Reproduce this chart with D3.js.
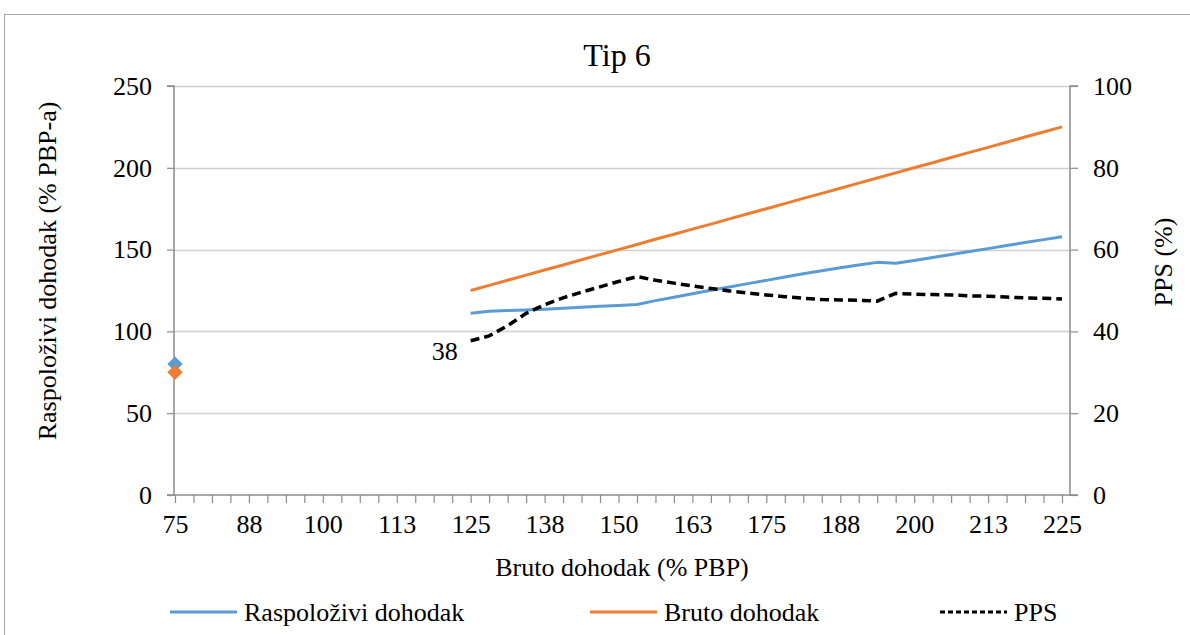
<!DOCTYPE html>
<html>
<head>
<meta charset="utf-8">
<script src="https://cdn.jsdelivr.net/npm/d3@7"></script>
<style>
  html, body { margin: 0; padding: 0; background: #fff; }
  svg { display: block; }
  svg text { font-family: "Liberation Serif", "Times New Roman", "DejaVu Serif", serif !important; fill: #000; }
</style>
</head>
<body>
<svg id="chart" width="1190" height="635"></svg>
<script>
// ---------- data ----------
const categories = [75, 78.125, 81.25, 84.375, 87.5, 90.625, 93.75, 96.875, 100, 103.125, 106.25, 109.375,
  112.5, 115.625, 118.75, 121.875, 125, 128.125, 131.25, 134.375, 137.5, 140.625, 143.75, 146.875,
  150, 153.125, 156.25, 159.375, 162.5, 165.625, 168.75, 171.875, 175, 178.125, 181.25, 184.375,
  187.5, 190.625, 193.75, 196.875, 200, 203.125, 206.25, 209.375, 212.5, 215.625, 218.75, 221.875, 225];

const raspolozivi = [80, null, null, null, null, null, null, null, null, null, null, null, null, null, null, null,
  111.1, 112.3, 112.8, 113.1, 113.5, 114.1, 114.7, 115.3, 115.9, 116.5, 118.8, 120.9, 123.0, 125.1, 127.2,
  129.2, 131.2, 133.2, 135.2, 137.1, 138.9, 140.6, 142.2, 141.6, 143.4, 145.2, 147.0, 148.8, 150.6, 152.5,
  154.3, 156.1, 157.9];

const bruto = [75, null, null, null, null, null, null, null, null, null, null, null, null, null, null, null,
  125, 128.1, 131.3, 134.4, 137.5, 140.6, 143.8, 146.9, 150, 153.1, 156.3, 159.4, 162.5, 165.6, 168.8,
  171.9, 175, 178.1, 181.3, 184.4, 187.5, 190.6, 193.8, 196.9, 200, 203.1, 206.3, 209.4, 212.5, 215.6,
  218.8, 221.9, 225];

const pps = [null, null, null, null, null, null, null, null, null, null, null, null, null, null, null, null,
  37.7, 38.9, 41.4, 44.4, 46.5, 48.2, 49.6, 50.9, 52.2, 53.4, 52.5, 51.8, 51.1, 50.5, 49.9,
  49.4, 48.9, 48.5, 48.1, 47.8, 47.7, 47.6, 47.4, 49.3, 49.1, 49.0, 48.9, 48.7, 48.6, 48.4,
  48.2, 48.1, 47.9];

const leftTicks = [0, 50, 100, 150, 200, 250];
const rightTicks = [0, 20, 40, 60, 80, 100];
const ppsLabel = "38";

const titleText = "Tip 6";
const xTitle = "Bruto dohodak (% PBP)";
const yLeftTitle = "Raspoloživi dohodak (% PBP-a)";
const yRightTitle = "PPS (%)";
const seriesNames = ["Raspoloživi dohodak", "Bruto dohodak", "PPS"];

// ---------- layout ----------
const FONT = '"Liberation Serif", "Times New Roman", "DejaVu Serif", serif';
const FS = 26;
const svg = d3.select("#chart");
const plotLeft = 175, plotRight = 1062, axisRightX = 1070, plotTop = 86, plotBottom = 495;
const blue = "#5B9BD5", orange = "#ED7D31";
const gridColor = "#d0d0d0", axisColor = "#8c8c8c";

// chart border
svg.append("rect").attr("x", 4.5).attr("y", 14.5).attr("width", 1200).attr("height", 700)
  .attr("fill", "none").attr("stroke", "#a6a6a6").attr("stroke-width", 1);

const x = d3.scalePoint().domain(d3.range(categories.length)).range([plotLeft, plotRight]).padding(0);
const yL = d3.scaleLinear().domain([0, 250]).range([plotBottom, plotTop]);
const yR = d3.scaleLinear().domain([0, 100]).range([plotBottom, plotTop]);

// gridlines
svg.append("g").selectAll("line").data(leftTicks.filter(d => d > 0)).join("line")
  .attr("x1", plotLeft - 1).attr("x2", axisRightX)
  .attr("y1", d => Math.round(yL(d)) + 0.5).attr("y2", d => Math.round(yL(d)) + 0.5)
  .attr("stroke", gridColor).attr("stroke-width", 1.5);

// left axis
const gLeft = svg.append("g").attr("transform", `translate(${plotLeft - 1},0)`)
  .call(d3.axisLeft(yL).tickValues(leftTicks).tickSize(7).tickPadding(15).tickFormat(d3.format("d")));
// right axis
const gRight = svg.append("g").attr("transform", `translate(${axisRightX},0)`)
  .call(d3.axisRight(yR).tickValues(rightTicks).tickSize(8).tickPadding(15).tickFormat(d3.format("d")));
// bottom axis
const gBottom = svg.append("g").attr("transform", `translate(0,${plotBottom})`)
  .call(d3.axisBottom(x).tickSize(8).tickPadding(12)
    .tickFormat(i => (i % 4 === 0 ? String(Math.round(categories[i])) : "")));

[gLeft, gRight, gBottom].forEach(g => {
  g.attr("font-family", FONT).attr("font-size", FS);
  g.select(".domain").attr("stroke", axisColor).attr("stroke-width", 1.5);
  g.selectAll(".tick line").attr("stroke", axisColor).attr("stroke-width", 1.2);
  g.selectAll(".tick text").attr("font-size", FS).attr("fill", "#000").attr("font-family", FONT);
});
gLeft.select(".domain").attr("d", `M-7,${plotBottom}H0V${plotTop}H-7`);
gRight.select(".domain").attr("d", `M8,${plotBottom}H0V${plotTop}H8`);
gBottom.select(".domain").attr("d", `M${plotLeft - 1},0H${axisRightX}`);

// lines
const lineL = d3.line().defined(d => d.v != null).x(d => x(d.i)).y(d => yL(d.v));
const lineR = d3.line().defined(d => d.v != null).x(d => x(d.i)).y(d => yR(d.v));
const toPts = arr => arr.map((v, i) => ({ i, v }));

svg.append("path").datum(toPts(bruto)).attr("d", lineL)
  .attr("fill", "none").attr("stroke", orange).attr("stroke-width", 3).attr("stroke-linejoin", "round");
svg.append("path").datum(toPts(raspolozivi)).attr("d", lineL)
  .attr("fill", "none").attr("stroke", blue).attr("stroke-width", 3).attr("stroke-linejoin", "round");
svg.append("path").datum(toPts(pps)).attr("d", lineR)
  .attr("fill", "none").attr("stroke", "#000").attr("stroke-width", 3.5)
  .attr("stroke-dasharray", "9,5");

// isolated points -> diamond markers
function isolated(arr) {
  return toPts(arr).filter(d => d.v != null &&
    (d.i === 0 || arr[d.i - 1] == null) && (d.i === arr.length - 1 || arr[d.i + 1] == null));
}
const diamond = d3.symbol().type(d3.symbolDiamond2).size(150);
[[raspolozivi, blue], [bruto, orange]].forEach(([arr, col]) => {
  svg.append("g").selectAll("path").data(isolated(arr)).join("path")
    .attr("transform", d => `translate(${x(d.i)},${yL(d.v)})`)
    .attr("d", diamond).attr("fill", col);
});

function txt(sel) { return sel.attr("font-family", FONT).attr("font-size", FS).attr("fill", "#000"); }

// data label on first PPS point
const firstPps = pps.findIndex(v => v != null);
txt(svg.append("text")).attr("x", x(firstPps) - 13).attr("y", yR(pps[firstPps]) + 19)
  .attr("text-anchor", "end").text(ppsLabel);

// titles
txt(svg.append("text")).attr("x", 617).attr("y", 66).attr("text-anchor", "middle")
  .attr("font-size", 32).text(titleText);
txt(svg.append("text")).attr("x", 622).attr("y", 576).attr("text-anchor", "middle").text(xTitle);
txt(svg.append("text")).attr("transform", "translate(56,271) rotate(-90)").attr("text-anchor", "middle")
  .text(yLeftTitle);
txt(svg.append("text")).attr("transform", "translate(1172,262) rotate(-90)").attr("text-anchor", "middle")
  .text(yRightTitle);

// legend
const legend = [
  { name: seriesNames[0], color: blue, x: 170, dash: null },
  { name: seriesNames[1], color: orange, x: 590, dash: null },
  { name: seriesNames[2], color: "#000", x: 940, dash: "5,3" }
];
const lg = svg.append("g");
legend.forEach(d => {
  lg.append("line").attr("x1", d.x).attr("x2", d.x + 67).attr("y1", 612).attr("y2", 612)
    .attr("stroke", d.color).attr("stroke-width", 3).attr("stroke-dasharray", d.dash);
  txt(lg.append("text")).attr("x", d.x + 74).attr("y", 621).text(d.name);
});
</script>
</body>
</html>
